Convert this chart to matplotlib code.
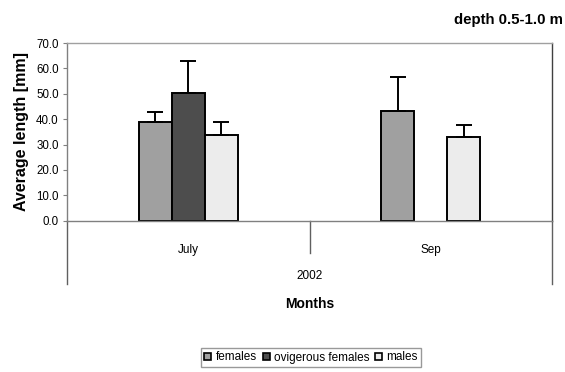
import numpy as np
import matplotlib
matplotlib.use("Agg")
import matplotlib.pyplot as plt
from matplotlib.patches import Patch

plt.rcParams["font.family"] = ["Liberation Sans", "DejaVu Sans"]

months = ["July", "Sep"]
year_label = "2002"
series = ["females", "ovigerous females", "males"]
means = {
    "females": [38.9, 43.3],
    "ovigerous females": [50.4, np.nan],
    "males": [33.9, 33.1],
}
errors = {
    "females": [3.8, 13.4],
    "ovigerous females": [12.6, np.nan],
    "males": [4.8, 4.6],
}
colors = {"females": "#a0a0a0", "ovigerous females": "#4d4d4d", "males": "#ececec"}

fig = plt.figure(figsize=(5.65, 3.72), dpi=100)
ax = fig.add_axes([67 / 565, 1 - 220.7 / 372, 485 / 565, 177.7 / 372])

x = np.arange(len(months))
width = 0.136
for i, name in enumerate(series):
    pos = x + (i - 1) * width
    vals = np.array(means[name], dtype=float)
    errs = np.array(errors[name], dtype=float)
    ok = ~np.isnan(vals)
    ax.bar(pos[ok], vals[ok], width, color=colors[name], edgecolor="black",
           linewidth=1.4, zorder=2)
    ax.errorbar(pos[ok], vals[ok], yerr=[np.zeros(ok.sum()), errs[ok]], fmt="none",
                ecolor="black", elinewidth=1.4, capsize=5.5, capthick=1.4, zorder=3)

ax.set_xlim(-0.5, 1.5)
ax.set_ylim(0, 70)
ax.set_yticks(np.arange(0, 71, 10))
ax.set_yticklabels([f"{v:.1f}" for v in np.arange(0, 71, 10)], fontsize=8.3)
ax.tick_params(axis="y", length=3, width=0.8, color="#808080", pad=3)
ax.set_xticks(x)
ax.set_xticklabels(months, fontsize=8.5)
ax.tick_params(axis="x", length=0, pad=17)

ax.spines["top"].set_color("#a0a0a0")
ax.spines["left"].set_color("#808080")
ax.spines["bottom"].set_color("#808080")
ax.spines["right"].set_color("#404040")
for s in ax.spines.values():
    s.set_linewidth(1.0)

# category dividers below the axis
depth_outer = -(284 - 220.7) / 177.7
depth_inner = -(252.7 - 220.7) / 177.7
for xa, d in [(0, depth_outer), (0.5, depth_inner), (1, depth_outer)]:
    ax.plot([xa, xa], [0, d], transform=ax.transAxes, color="#606060",
            linewidth=1.0, clip_on=False)

ax.text(0.5, -(275.7 - 220.7) / 177.7, year_label, transform=ax.transAxes,
        ha="center", va="center", fontsize=8.5)
ax.text(0.5, -(304 - 220.7) / 177.7, "Months", transform=ax.transAxes,
        ha="center", va="center", fontsize=10, fontweight="bold")
ax.set_ylabel("Average length [mm]", fontsize=11.5, fontweight="bold", labelpad=5)

fig.text(563 / 565, 1 - 20 / 372, "depth 0.5-1.0 m", ha="right", va="center",
         fontsize=10.8, fontweight="bold")

handles = [Patch(facecolor=colors[n], edgecolor="black", linewidth=1.2) for n in series]
leg = fig.legend(handles, series, loc="center", ncol=3,
                 bbox_to_anchor=(311 / 565, 1 - 357.5 / 372), fontsize=8.5,
                 frameon=True, fancybox=False, edgecolor="#808080",
                 handlelength=0.6, handleheight=0.6, handletextpad=0.35,
                 columnspacing=0.5, borderpad=0.3, borderaxespad=0)
leg.get_frame().set_linewidth(1.0)

fig.savefig("out.png", dpi=100)
